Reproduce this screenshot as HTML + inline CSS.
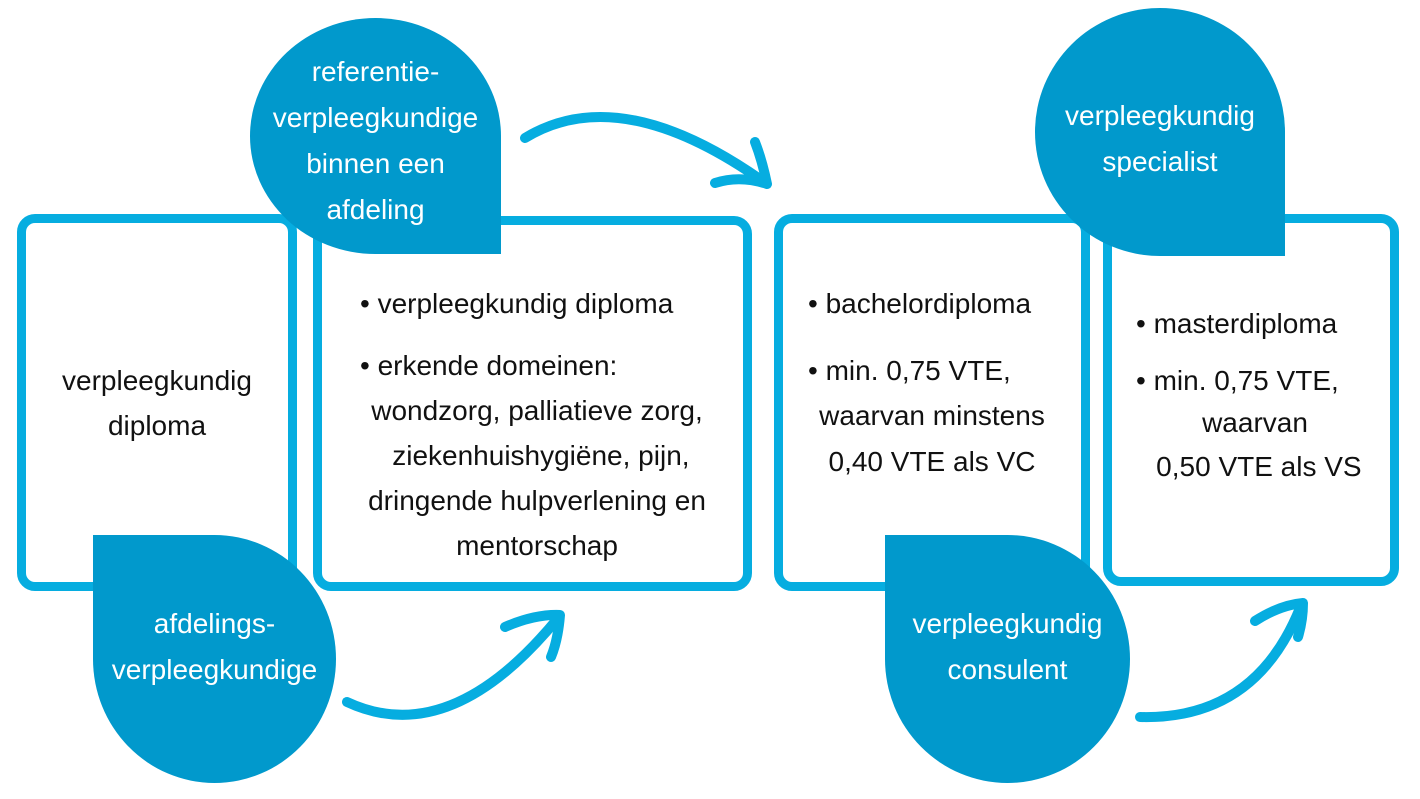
<!DOCTYPE html>
<html><head><meta charset="utf-8"><style>
body{margin:0;width:1420px;height:799px;background:#fff;position:relative;overflow:hidden;font-family:"Liberation Sans",sans-serif}
.box{position:absolute;border:9px solid #06ade0;border-radius:18px;box-sizing:border-box;background:#fff}
.drop{position:absolute;background:#0199cc;color:#fff;display:flex;align-items:center;justify-content:center;text-align:center;font-size:28px;line-height:46px;box-sizing:border-box}
.t{position:absolute;color:#111;font-size:28px;line-height:45px;white-space:nowrap}
</style></head><body>
<div class="box" style="left:17px;top:214px;width:280px;height:377px"></div>
<div class="box" style="left:313px;top:216px;width:439px;height:375px"></div>
<div class="box" style="left:774px;top:214px;width:316px;height:377px"></div>
<div class="box" style="left:1103px;top:214px;width:296px;height:372px"></div>

<div class="t" style="left:17px;top:358px;width:280px;text-align:center">verpleegkundig<br>diploma</div>
<div class="t" style="left:360px;top:281px">• verpleegkundig diploma</div>
<div class="t" style="left:360px;top:343px">• erkende domeinen:</div>
<div class="t" style="left:322px;top:388px;width:430px;text-align:center">wondzorg, palliatieve zorg,<br>&nbsp;ziekenhuishygiëne, pijn,<br>dringende hulpverlening en<br>mentorschap</div>
<div class="t" style="left:808px;top:281px">• bachelordiploma</div>
<div class="t" style="left:808px;top:348px">• min. 0,75 VTE,</div>
<div class="t" style="left:774px;top:393px;width:316px;text-align:center;line-height:46px">waarvan minstens<br>0,40 VTE als VC</div>
<div class="t" style="left:1136px;top:301px">• masterdiploma</div>
<div class="t" style="left:1136px;top:358px">• min. 0,75 VTE,</div>
<div class="t" style="left:1110px;top:401px;width:290px;text-align:center;line-height:44px">waarvan<br>&nbsp;0,50 VTE als VS</div>

<div class="drop" style="left:250px;top:18px;width:251px;height:236px;border-radius:50% 50% 0 50%;padding-top:10px">referentie-<br>verpleegkundige<br>binnen een<br>afdeling</div>
<div class="drop" style="left:93px;top:535px;width:243px;height:248px;border-radius:0 50% 50% 50%;padding-bottom:24px">afdelings-<br>verpleegkundige</div>
<div class="drop" style="left:885px;top:535px;width:245px;height:248px;border-radius:0 50% 50% 50%;padding-bottom:24px">verpleegkundig<br>consulent</div>
<div class="drop" style="left:1035px;top:8px;width:250px;height:248px;border-radius:50% 50% 0 50%;padding-top:14px">verpleegkundig<br>specialist</div>

<svg width="1420" height="799" style="position:absolute;left:0;top:0" fill="none" stroke="#06ade0" stroke-width="10" stroke-linecap="round" stroke-linejoin="round">
<path d="M347 702 Q450 750 558 618"/><path d="M505 627 Q535 614 560 615 Q558 640 551 657"/>
<path d="M525 138 Q620 80 764 182"/><path d="M715 183 Q740 175 767 184 Q762 160 755 142"/>
<path d="M1140 717 Q1255 720 1300 608"/><path d="M1255 621 Q1280 605 1303 603 Q1303 620 1298 637"/>
</svg>
</body></html>
